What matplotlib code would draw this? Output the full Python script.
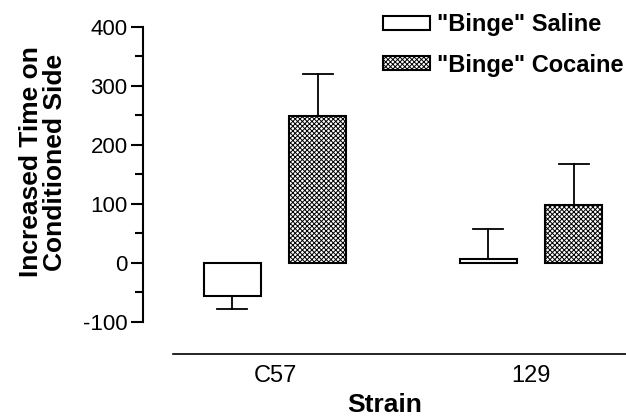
import matplotlib
matplotlib.use("Agg")
import matplotlib.pyplot as plt
import numpy as np

plt.rcParams['font.family'] = ['Liberation Sans', 'DejaVu Sans']
plt.rcParams['hatch.linewidth'] = 0.7
plt.rcParams['axes.unicode_minus'] = False

strains = ["C57", "129"]
series = ['"Binge" Saline', '"Binge" Cocaine']
saline = [-56, 7]
saline_err = [23, 50]
cocaine = [249, 98]
cocaine_err = [71, 69]

fig = plt.figure(figsize=(6.26, 4.2), dpi=100)
ax = fig.add_axes([143/626, 1-354.3/420, 1-143/626, (354.3-26.7)/420])

x = np.arange(len(strains))
w = 0.223
off = 0.167

def draw(xpos, vals, errs, hatch, label):
    bars = ax.bar(xpos, vals, w, color='white', edgecolor='black', linewidth=1.5,
                  hatch=hatch, label=label, zorder=2)
    for xi, v, e in zip(xpos, vals, errs):
        s = 1 if v >= 0 else -1
        ax.plot([xi, xi], [v, v + s*e], color='black', lw=1.3, zorder=1)
        ax.plot([xi - w*0.26, xi + w*0.26], [v + s*e]*2, color='black', lw=1.3, zorder=1)
    return bars

draw(x - off, saline, saline_err, None, series[0])
draw(x + off, cocaine, cocaine_err, 'xxxxxxx', series[1])

ax.set_xlim(-0.516, 1.371)
ax.set_ylim(-155, 400)
ax.spines['top'].set_visible(False)
ax.spines['right'].set_visible(False)
ax.spines['left'].set_bounds(-100, 400)
ax.spines['bottom'].set_bounds(-0.398, 1.371)
ax.spines['left'].set_linewidth(1.5)
ax.spines['bottom'].set_linewidth(1.2)

ax.set_yticks([-100, 0, 100, 200, 300, 400])
ax.set_yticks(np.arange(-50, 400, 100), minor=True)
ax.tick_params(axis='y', which='major', length=9, width=1.5, labelsize=16, pad=2)
ax.tick_params(axis='y', which='minor', length=6, width=1.5)
ax.set_xticks(x)
ax.set_xticklabels(strains)
ax.tick_params(axis='x', length=0, labelsize=17, pad=8)

ax.set_xlabel("Strain", fontsize=19, fontweight='bold', labelpad=4)
ax.set_ylabel("Increased Time on\nConditioned Side", fontsize=19, fontweight='bold',
              linespacing=1.0)
ax.yaxis.set_label_coords(-0.158, 0.587)

leg = ax.legend(loc='upper left', bbox_to_anchor=(383/626, 1-13/420), bbox_transform=fig.transFigure,
                frameon=False, prop={'size': 17, 'weight': 'bold'},
                handlelength=2.0, handleheight=0.55, handletextpad=0.3, labelspacing=0.75,
                borderaxespad=0, borderpad=0)

fig.savefig("out.png", dpi=100)
